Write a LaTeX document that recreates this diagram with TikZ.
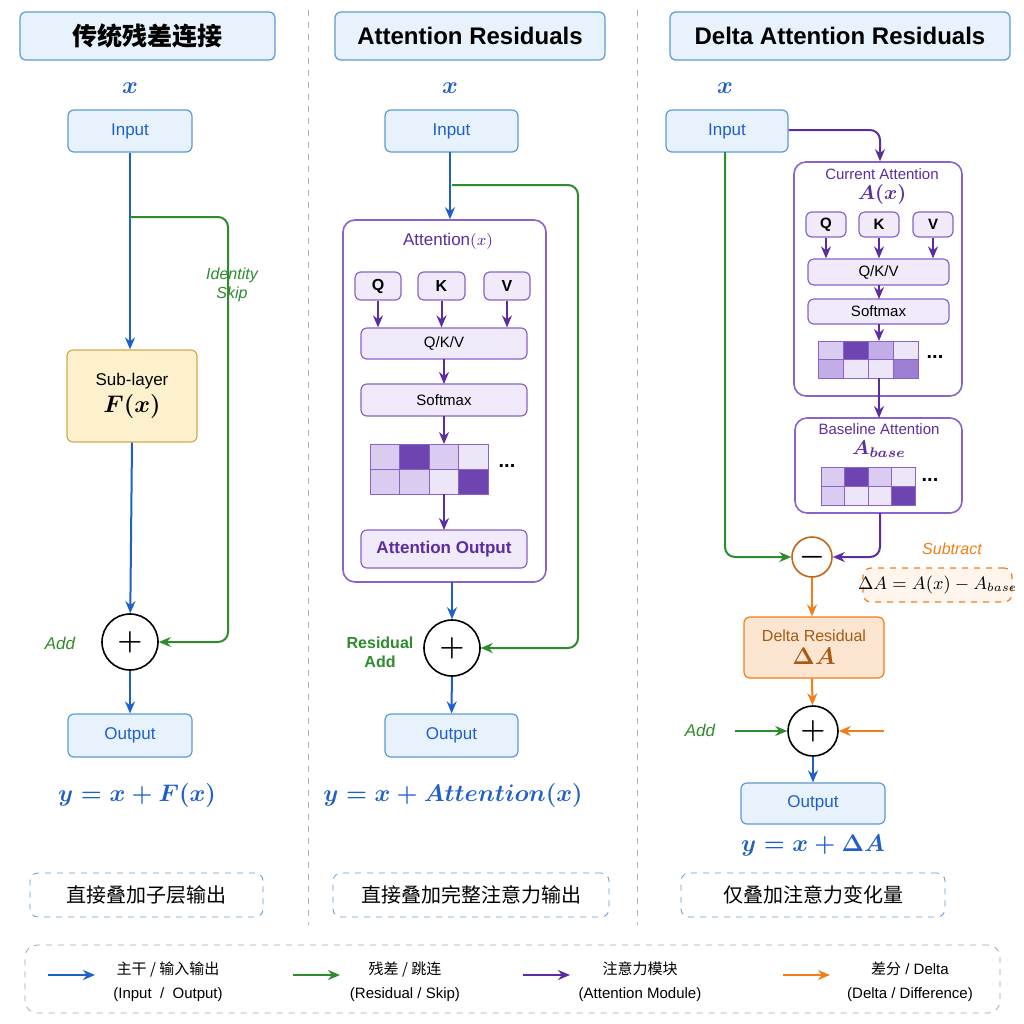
\documentclass[tikz,border=0pt]{standalone}
\usepackage{amsmath,amssymb}
\usepackage{fontspec}
\setmainfont{Liberation Sans}
\newfontfamily\cjk{Noto Sans CJK SC}
\usetikzlibrary{fit,arrows.meta}
\definecolor{cb}{HTML}{1F5FC8}
\definecolor{cg}{HTML}{2E8B2E}
\definecolor{cp}{HTML}{5B2DA0}
\definecolor{co}{HTML}{F07F1A}
\definecolor{bfill}{HTML}{E8F2FC}
\definecolor{bdraw}{HTML}{5B9BD5}
\definecolor{pfill}{HTML}{F1EAFA}
\definecolor{pdraw}{HTML}{8A63C8}
\definecolor{g1}{HTML}{D9CCF0}
\definecolor{g2}{HTML}{C2ADE6}
\definecolor{g3}{HTML}{6E45B0}
\definecolor{g4}{HTML}{EDE5F8}
\definecolor{g5}{HTML}{9C7ED2}
\definecolor{ydraw}{HTML}{D4A84B}
\definecolor{yfill}{HTML}{FDF0CC}
\tikzset{
 bx/.style={draw=bdraw,fill=bfill,rounded corners=3pt,inner sep=0pt,line width=0.6pt,text=cb,font=\fontsize{8.5}{10}\selectfont},
 tbx/.style={bx,font=\cjk\bfseries\fontsize{12.5}{14}\selectfont,text=black},
 pbx/.style={draw=pdraw,fill=pfill,rounded corners=3pt,inner sep=0pt,line width=0.6pt,text=black,font=\fontsize{7.5}{9}\selectfont},
 pbig/.style={draw=pdraw,fill=white,rounded corners=6pt,inner sep=0pt,line width=0.8pt},
 circ/.style={draw=black,fill=white,circle,line width=0.8pt,inner sep=0pt},
 ab/.style={-{Stealth[length=6pt,width=5pt]},line width=1pt,cb},
 ag/.style={ab,cg,rounded corners=5pt},
 ap/.style={ab,cp,rounded corners=5pt},
 ao/.style={ab,co},
 note/.style={draw=bdraw,dashed,rounded corners=4pt,inner sep=0pt,font=\cjk\fontsize{10}{12}\selectfont},
 lg/.style={font=\fontsize{7.5}{9}\selectfont,align=center},
}
\newcommand\fb[4][bx]{\node[#1,fit={#2}] (#3) {};
 \node[#1,draw=none,fill=none,align=center] (#3-txt) at (#3.center) {#4};}
\begin{document}
\begin{tikzpicture}[x=0.5pt,y=-0.5pt]
\useasboundingbox[fill=white] (0,0) rectangle (1024,1024);
\draw[gray!60,dashed] (308,10)--(308,925) (637,10)--(637,925);
% titles
\fb[tbx]{(20,12)(275,60)}{t1}{传统残差连接}
\fb[tbx,font=\bfseries\fontsize{12}{14}\selectfont]{(335,12)(605,60)}{t2}{Attention Residuals}
\fb[tbx,font=\bfseries\fontsize{12}{14}\selectfont]{(670,12)(1010,60)}{t3}{Delta Attention Residuals}
% ---- col1
\node[text=cb,font=\large] (x1) at (130,88) {$\boldsymbol{x}$};
\fb{(68,110)(192,152)}{in1}{Input}
\fb[bx,draw=ydraw,fill=yfill,text=black]{(67,350)(197,442)}{sub}{Sub-layer\\[2pt]{\large$\boldsymbol{F(x)}$}}
\node[circ,minimum size=28pt] (p1) at (130,642) {\Large$\boldsymbol{+}$};
\fb{(68,714)(192,757)}{out1}{Output}
\node[text=cb,font=\large] (f1) at (137,795) {$\boldsymbol{y=x+F(x)}$};
\coordinate (s1) at (130,217);
\draw[ab] (in1.south)--(in1.south|-sub.north);
\draw[ab] (sub.south)--(p1);
\draw[ab] (p1)--(out1);
\draw[ag] (s1)--(228,217)--(228,642)--(p1);
\node[text=cg,font=\itshape\fontsize{8}{9.5}\selectfont,align=center] (l1) at (232,285) {Identity\\Skip};
\node[text=cg,font=\itshape\fontsize{8.5}{10}\selectfont] (a1) at (60,643) {Add};
% ---- col2
\node[text=cb,font=\large] (x2) at (450,88) {$\boldsymbol{x}$};
\fb{(385,110)(518,152)}{in2}{Input}
\node[pbig,fit={(343,220)(546,582)}] (att) {};
\node[text=cp,font=\fontsize{8.5}{10}\selectfont] (att-t) at (448,241) {Attention$(x)$};
\fb[pbx,font=\bfseries\fontsize{8}{9}\selectfont]{(355,272)(401,300)}{q2}{Q}
\fb[pbx,font=\bfseries\fontsize{8}{9}\selectfont]{(418,272)(465,300)}{k2}{K}
\fb[pbx,font=\bfseries\fontsize{8}{9}\selectfont]{(484,272)(530,300)}{v2}{V}
\fb[pbx]{(361,328)(527,359)}{qkv2}{Q/K/V}
\fb[pbx]{(361,384)(527,416)}{sm2}{Softmax}
\foreach \c [count=\i from 0] in {g1,g3,g1,g4}{\fill[\c] (370+\i*29.5,444) rectangle ++(29.5,25);}
\foreach \c [count=\i from 0] in {g1,g1,g4,g3}{\fill[\c] (370+\i*29.5,469) rectangle ++(29.5,25);}
\draw[pdraw] (370,444) rectangle (488,494) (370,469)--(488,469);
\foreach \i in {1,2,3}{\draw[pdraw] (370+\i*29.5,444)--(370+\i*29.5,494);}
\node[inner sep=0pt,fit={(370,444)(488,494)}] (gr2) {};
\node (dots2) at (507,466) {\textbf{...}};
\fb[pbx,text=cp,font=\bfseries\fontsize{8.5}{10}\selectfont]{(361,530)(527,568)}{ao2}{Attention Output}
\node[circ,minimum size=28pt] (p2) at (452,648) {\Large$\boldsymbol{+}$};
\fb{(385,714)(518,757)}{out2}{Output}
\node[text=cb,font=\large] (f2) at (453,795) {$\boldsymbol{y=x+\mathnormal{Attention}(x)}$};
\coordinate (c2) at (450,152);
\draw[ab] (c2)--(c2|-att.north);
\foreach \a in {q2,k2,v2}{\draw[ap] (\a.south) -- (\a.south|-qkv2.north);}
\draw[ap] (444,359)--(444,384);
\draw[ap] (444,416)--(444,444);
\draw[ap] (444,494)--(444,530);
\draw[ab] (452,582)--(p2);
\draw[ab] (p2)--(out2);
\coordinate (s2) at (452,185);
\draw[ag] (s2)--(578,185)--(578,648)--(p2);
\node[text=cg,font=\bfseries\fontsize{8}{9.5}\selectfont,align=center] (l2) at (380,652) {Residual\\Add};
% ---- col3
\node[text=cb,font=\large] (x3) at (725,88) {$\boldsymbol{x}$};
\fb{(666,110)(788,152)}{in3}{Input}
\node[pbig,fit={(794,162)(962,396)}] (cur) {};
\node[text=cp,font=\fontsize{7.5}{9}\selectfont,align=center] (cur-t) at (882,187) {Current Attention\\[1pt]{\normalsize$\boldsymbol{A(x)}$}};
\fb[pbx,font=\bfseries\fontsize{7.5}{9}\selectfont]{(806,212)(846,237)}{q3}{Q}
\fb[pbx,font=\bfseries\fontsize{7.5}{9}\selectfont]{(859,212)(899,237)}{k3}{K}
\fb[pbx,font=\bfseries\fontsize{7.5}{9}\selectfont]{(913,212)(953,237)}{v3}{V}
\fb[pbx]{(808,259)(949,285)}{qkv3}{Q/K/V}
\fb[pbx]{(808,299)(949,324)}{sm3}{Softmax}
\foreach \c [count=\i from 0] in {g1,g3,g2,g4}{\fill[\c] (818+\i*25,341) rectangle ++(25,18.5);}
\foreach \c [count=\i from 0] in {g2,g4,g4,g5}{\fill[\c] (818+\i*25,359.5) rectangle ++(25,18.5);}
\draw[pdraw] (818,341) rectangle (918,378) (818,359.5)--(918,359.5);
\foreach \i in {1,2,3}{\draw[pdraw] (818+\i*25,341)--(818+\i*25,378);}
\node[inner sep=0pt,fit={(818,341)(918,378)}] (gr3) {};
\node (dots3) at (935,357) {\textbf{...}};
\node[pbig,fit={(795,418)(962,513)}] (base) {};
\node[text=cp,font=\fontsize{7.5}{9}\selectfont,align=center] (base-t) at (879,441) {Baseline Attention\\[1pt]{\normalsize$\boldsymbol{A_{base}}$}};
\foreach \c [count=\i from 0] in {g1,g3,g1,g4}{\fill[\c] (821+\i*23.5,467) rectangle ++(23.5,19);}
\foreach \c [count=\i from 0] in {g1,g4,g4,g3}{\fill[\c] (821+\i*23.5,486) rectangle ++(23.5,19);}
\draw[pdraw] (821,467) rectangle (915,505) (821,486)--(915,486);
\foreach \i in {1,2,3}{\draw[pdraw] (821+\i*23.5,467)--(821+\i*23.5,505);}
\node (dots4) at (930,480) {\textbf{...}};
\node[circ,draw=co!80!black,minimum size=20pt] (m3) at (812,557) {\Large$\boldsymbol{-}$};
\node[text=co,font=\itshape\fontsize{8}{9.5}\selectfont] (sublbl) at (952,549) {Subtract};
\fb[bx,draw=co,dashed,fill=co!8,text=black,rounded corners=4pt,font=\fontsize{9}{10}\selectfont]{(863,568)(1012,602)}{fd}{$\Delta A=A(x)-A_{base}$}
\fb[bx,draw=co,fill=co!20,text=co!70!black,font=\fontsize{8}{9.5}\selectfont]{(744,617)(884,678)}{dr}{Delta Residual\\[2pt]{\large$\boldsymbol{\Delta A}$}}
\node[circ,minimum size=25pt] (p3) at (813,731) {\Large$\boldsymbol{+}$};
\fb{(741,783)(885,824)}{out3}{Output}
\node[text=cb,font=\large] (f3) at (813,846) {$\boldsymbol{y=x+\Delta A}$};
\node[text=cg,font=\itshape\fontsize{8.5}{10}\selectfont] (a3) at (700,730) {Add};
\coordinate (ga) at (735,731);
\coordinate (oa) at (884,731);
\coordinate (ci) at (880,130);
\draw[ap] (in3.east|-ci)--(ci)--(ci|-cur.north);
\foreach \a in {q3,k3,v3}{\draw[ap] (\a.south) -- (\a.south|-qkv3.north);}
\draw[ap] (879,285)--(879,299);
\draw[ap] (879,324)--(879,341);
\draw[ap] (879,378)--(879,418);
\draw[ap] (880,513)--(880,557)--(m3);
\draw[ag] (725,152)--(725,557)--(m3);
\draw[ao] (m3)--(m3|-dr.north);
\draw[ao] (dr.south-|m3)--(p3);
\draw[ab,cg] (ga)--(p3);
\draw[ao] (oa)--(p3);
\draw[ab] (p3)--(p3|-out3.north);
% notes
\fb[note]{(30,873)(263,917)}{n1}{直接叠加子层输出}
\fb[note]{(333,873)(609,917)}{n2}{直接叠加完整注意力输出}
\fb[note]{(681,873)(945,917)}{n3}{仅叠加注意力变化量}
% legend
\node[draw=gray!70,dashed,rounded corners=6pt,inner sep=0pt,fit={(25,945)(1000,1013)}] (leg) {};
\foreach \x/\c/\n in {48/cb/la,293/cg/lb,523/cp/lc,783/co/ld}{
 \coordinate (\n0) at (\x,975); \coordinate (\n1) at (\x+47,975);
 \draw[ab,\c] (\n0)--(\n1);}
\node[lg] (t1a) at (168,982) {{\cjk 主干 / 输入输出}\\[3pt](Input\ \ /\ \ Output)};
\node[lg] (t2a) at (405,982) {{\cjk 残差 / 跳连}\\[3pt](Residual / Skip)};
\node[lg] (t3a) at (640,982) {{\cjk 注意力模块}\\[3pt](Attention Module)};
\node[lg] (t4a) at (910,982) {{\cjk 差分} / Delta\\[3pt](Delta / Difference)};
\end{tikzpicture}
\end{document}
